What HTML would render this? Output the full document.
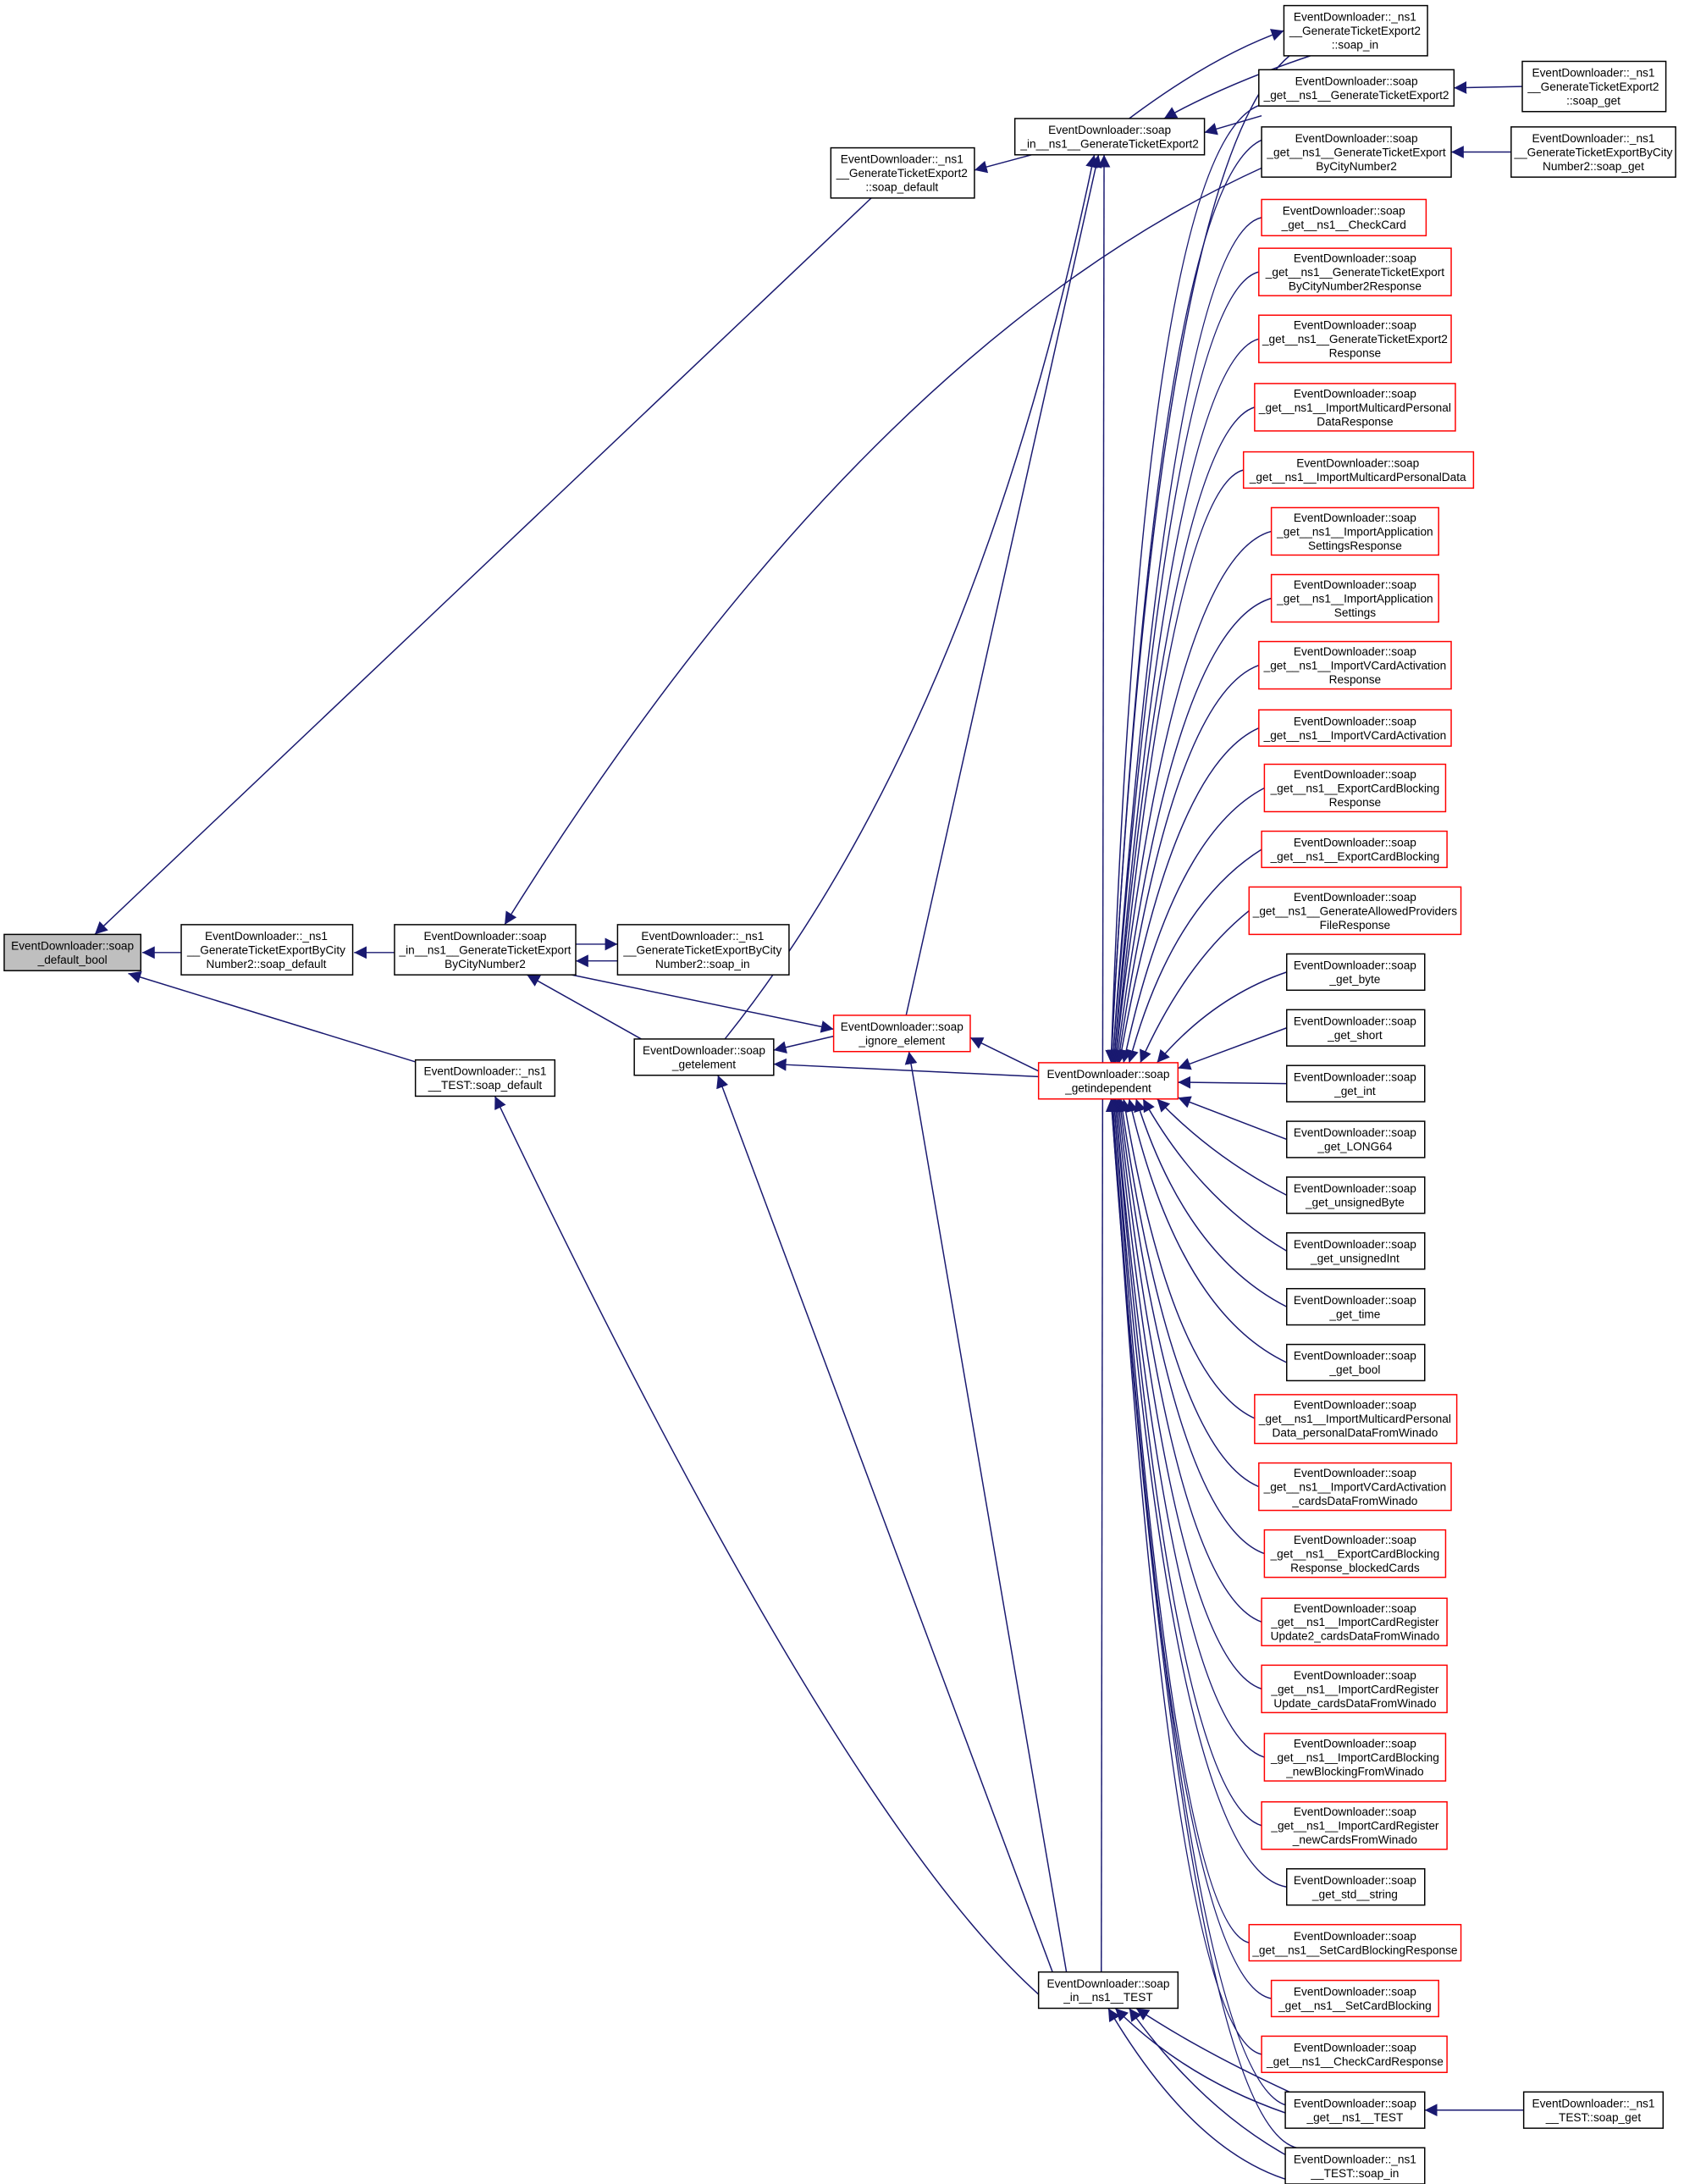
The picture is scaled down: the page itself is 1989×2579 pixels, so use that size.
<!DOCTYPE html>
<html><head><meta charset="utf-8"><style>
html,body{margin:0;padding:0;background:#fff;}
svg{display:block;}
text{font-family:"Liberation Sans",Arial,sans-serif;font-size:8.3px;fill:#000;text-anchor:middle;}
.n{fill:#fff;stroke:#000;stroke-width:0.9;}
.r{fill:#fff;stroke:#ff0000;stroke-width:0.9;}
.g{fill:#bfbfbf;stroke:#000;stroke-width:0.9;}
path.e{fill:none;stroke:#191970;stroke-width:0.9;}
</style></head><body>
<svg width="1989" height="2579" viewBox="0 0 1208 1566" preserveAspectRatio="none" xmlns="http://www.w3.org/2000/svg">
<defs><marker id="a" viewBox="0 0 10 10" refX="10" refY="5" markerWidth="9" markerHeight="9" markerUnits="userSpaceOnUse" orient="auto"><path d="M0,0 L10,5 L0,10 z" fill="#191970"/></marker></defs>

<g marker-end="url(#a)">
<path class="e" d="M130,683 L102,683"/>
<path class="e" d="M283,683 L254,683"/>
<path class="e" d="M625,142 L68,670"/>
<path class="e" d="M300,762 L92,698"/>
<path class="e" d="M413,677 L443,677"/>
<path class="e" d="M443,689 L413,689"/>
<path class="e" d="M906,120 Q620,250 362,663"/>
<path class="e" d="M740,111 L699,122"/>
<path class="e" d="M810,85 Q870,40 921,22"/>
<path class="e" d="M940,40 Q880,60 835,85"/>
<path class="e" d="M905,83 L864,95"/>
<path class="e" d="M1092,62 L1043,63"/>
<path class="e" d="M1084,109 L1041,109"/>
<path class="e" d="M460,745 L378,699"/>
<path class="e" d="M410,699 L598,738"/>
<path class="e" d="M598,743 L555,753"/>
<path class="e" d="M745,772 L555,763"/>
<path class="e" d="M745,768 L696,744"/>
<path class="e" d="M650,728 L788,111"/>
<path class="e" d="M520,745 Q700,520 785,111"/>
<path class="e" d="M765,1414 L652,754"/>
<path class="e" d="M755,1414 L515,771"/>
<path class="e" d="M745,1430 Q600,1300 355,786"/>
<path class="e" d="M790,1414 L792,111"/>
<path class="e" d="M925,1500 Q860,1470 815,1440"/>
<path class="e" d="M922,1515 Q850,1490 800,1440"/>
<path class="e" d="M922,1545 Q860,1510 810,1440"/>
<path class="e" d="M935,1566 Q860,1550 795,1440"/>
<path class="e" d="M1093,1513 L1022,1513"/>
<path class="e" d="M925,40 Q830,120 797,762"/>
<path class="e" d="M905,75 Q820,100 797,762"/>
<path class="e" d="M906,100 Q830,130 797,762"/>
<path class="e" d="M905,156 Q840,170 798,762"/>
<path class="e" d="M903,195 Q840,210 798,762"/>
<path class="e" d="M903,243 Q840,260 799,762"/>
<path class="e" d="M900,292 Q840,310 799,762"/>
<path class="e" d="M892,337 Q840,350 800,762"/>
<path class="e" d="M912,381 Q840,400 800,762"/>
<path class="e" d="M912,429 Q840,450 801,762"/>
<path class="e" d="M903,477 Q840,500 802,762"/>
<path class="e" d="M903,522 Q840,550 803,762"/>
<path class="e" d="M907,565 Q840,600 806,762"/>
<path class="e" d="M905,609 Q840,650 810,762"/>
<path class="e" d="M896,653 Q850,690 818,762"/>
<path class="e" d="M923,697 Q870,715 830,762"/>
<path class="e" d="M923,737 L845,766"/>
<path class="e" d="M923,777 L845,776"/>
<path class="e" d="M923,817 L845,787"/>
<path class="e" d="M923,857 Q870,830 830,788"/>
<path class="e" d="M923,897 Q860,860 820,788"/>
<path class="e" d="M923,937 Q850,900 815,788"/>
<path class="e" d="M923,977 Q845,940 810,788"/>
<path class="e" d="M900,1017 Q840,990 806,788"/>
<path class="e" d="M903,1066 Q840,1040 804,788"/>
<path class="e" d="M907,1114 Q840,1090 803,788"/>
<path class="e" d="M905,1163 Q840,1140 802,788"/>
<path class="e" d="M905,1211 Q840,1190 801,788"/>
<path class="e" d="M907,1260 Q840,1240 800,788"/>
<path class="e" d="M905,1309 Q840,1290 800,788"/>
<path class="e" d="M923,1353 Q840,1340 799,788"/>
<path class="e" d="M896,1393 Q840,1380 799,788"/>
<path class="e" d="M912,1433 Q840,1420 798,788"/>
<path class="e" d="M905,1473 Q840,1460 798,788"/>
<path class="e" d="M925,1510 Q850,1500 797,788"/>
<path class="e" d="M930,1540 Q850,1520 797,788"/>
</g>

<rect class="g" x="3" y="670" width="98" height="26"/><text x="52" y="681">EventDownloader::soap</text><text x="52" y="691">_default_bool</text>
<rect class="n" x="130" y="663" width="123" height="36"/><text x="191" y="674">EventDownloader::_ns1</text><text x="191" y="684">__GenerateTicketExportByCity</text><text x="191" y="694">Number2::soap_default</text>
<rect class="n" x="283" y="663" width="130" height="36"/><text x="348" y="674">EventDownloader::soap</text><text x="348" y="684">_in__ns1__GenerateTicketExport</text><text x="348" y="694">ByCityNumber2</text>
<rect class="n" x="443" y="663" width="123" height="36"/><text x="504" y="674">EventDownloader::_ns1</text><text x="504" y="684">__GenerateTicketExportByCity</text><text x="504" y="694">Number2::soap_in</text>
<rect class="n" x="596" y="106" width="103" height="36"/><text x="647" y="117">EventDownloader::_ns1</text><text x="647" y="127">__GenerateTicketExport2</text><text x="647" y="137">::soap_default</text>
<rect class="n" x="728" y="85" width="136" height="26"/><text x="796" y="96">EventDownloader::soap</text><text x="796" y="106">_in__ns1__GenerateTicketExport2</text>
<rect class="n" x="921" y="4" width="103" height="36"/><text x="972" y="15">EventDownloader::_ns1</text><text x="972" y="25">__GenerateTicketExport2</text><text x="972" y="35">::soap_in</text>
<rect class="n" x="903" y="50" width="140" height="26"/><text x="973" y="61">EventDownloader::soap</text><text x="973" y="71">_get__ns1__GenerateTicketExport2</text>
<rect class="n" x="1092" y="44" width="103" height="36"/><text x="1143" y="55">EventDownloader::_ns1</text><text x="1143" y="65">__GenerateTicketExport2</text><text x="1143" y="75">::soap_get</text>
<rect class="n" x="905" y="91" width="136" height="36"/><text x="973" y="102">EventDownloader::soap</text><text x="973" y="112">_get__ns1__GenerateTicketExport</text><text x="973" y="122">ByCityNumber2</text>
<rect class="n" x="1084" y="91" width="118" height="36"/><text x="1143" y="102">EventDownloader::_ns1</text><text x="1143" y="112">__GenerateTicketExportByCity</text><text x="1143" y="122">Number2::soap_get</text>
<rect class="n" x="298" y="760" width="100" height="26"/><text x="348" y="771">EventDownloader::_ns1</text><text x="348" y="781">__TEST::soap_default</text>
<rect class="n" x="455" y="745" width="100" height="26"/><text x="505" y="756">EventDownloader::soap</text><text x="505" y="766">_getelement</text>
<rect class="r" x="598" y="728" width="98" height="26"/><text x="647" y="739">EventDownloader::soap</text><text x="647" y="749">_ignore_element</text>
<rect class="r" x="745" y="762" width="100" height="26"/><text x="795" y="773">EventDownloader::soap</text><text x="795" y="783">_getindependent</text>
<rect class="n" x="745" y="1414" width="100" height="26"/><text x="795" y="1425">EventDownloader::soap</text><text x="795" y="1435">_in__ns1__TEST</text>
<rect class="n" x="1093" y="1500" width="100" height="26"/><text x="1143" y="1511">EventDownloader::_ns1</text><text x="1143" y="1521">__TEST::soap_get</text>
<rect class="n" x="922" y="1540" width="100" height="26"/><text x="972" y="1551">EventDownloader::_ns1</text><text x="972" y="1561">__TEST::soap_in</text>

<rect class="r" x="905" y="143" width="118" height="26"/><text x="964" y="154">EventDownloader::soap</text><text x="964" y="164">_get__ns1__CheckCard</text>
<rect class="r" x="903" y="178" width="138" height="34"/><text x="972" y="188">EventDownloader::soap</text><text x="972" y="198">_get__ns1__GenerateTicketExport</text><text x="972" y="208">ByCityNumber2Response</text>
<rect class="r" x="903" y="226" width="138" height="34"/><text x="972" y="236">EventDownloader::soap</text><text x="972" y="246">_get__ns1__GenerateTicketExport2</text><text x="972" y="256">Response</text>
<rect class="r" x="900" y="275" width="144" height="34"/><text x="972" y="285">EventDownloader::soap</text><text x="972" y="295">_get__ns1__ImportMulticardPersonal</text><text x="972" y="305">DataResponse</text>
<rect class="r" x="892" y="324" width="165" height="26"/><text x="974" y="335">EventDownloader::soap</text><text x="974" y="345">_get__ns1__ImportMulticardPersonalData</text>
<rect class="r" x="912" y="364" width="120" height="34"/><text x="972" y="374">EventDownloader::soap</text><text x="972" y="384">_get__ns1__ImportApplication</text><text x="972" y="394">SettingsResponse</text>
<rect class="r" x="912" y="412" width="120" height="34"/><text x="972" y="422">EventDownloader::soap</text><text x="972" y="432">_get__ns1__ImportApplication</text><text x="972" y="442">Settings</text>
<rect class="r" x="903" y="460" width="138" height="34"/><text x="972" y="470">EventDownloader::soap</text><text x="972" y="480">_get__ns1__ImportVCardActivation</text><text x="972" y="490">Response</text>
<rect class="r" x="903" y="509" width="138" height="26"/><text x="972" y="520">EventDownloader::soap</text><text x="972" y="530">_get__ns1__ImportVCardActivation</text>
<rect class="r" x="907" y="548" width="130" height="34"/><text x="972" y="558">EventDownloader::soap</text><text x="972" y="568">_get__ns1__ExportCardBlocking</text><text x="972" y="578">Response</text>
<rect class="r" x="905" y="596" width="133" height="26"/><text x="972" y="607">EventDownloader::soap</text><text x="972" y="617">_get__ns1__ExportCardBlocking</text>
<rect class="r" x="896" y="636" width="152" height="34"/><text x="972" y="646">EventDownloader::soap</text><text x="972" y="656">_get__ns1__GenerateAllowedProviders</text><text x="972" y="666">FileResponse</text>
<rect class="n" x="923" y="684" width="99" height="26"/><text x="972" y="695">EventDownloader::soap</text><text x="972" y="705">_get_byte</text>
<rect class="n" x="923" y="724" width="99" height="26"/><text x="972" y="735">EventDownloader::soap</text><text x="972" y="745">_get_short</text>
<rect class="n" x="923" y="764" width="99" height="26"/><text x="972" y="775">EventDownloader::soap</text><text x="972" y="785">_get_int</text>
<rect class="n" x="923" y="804" width="99" height="26"/><text x="972" y="815">EventDownloader::soap</text><text x="972" y="825">_get_LONG64</text>
<rect class="n" x="923" y="844" width="99" height="26"/><text x="972" y="855">EventDownloader::soap</text><text x="972" y="865">_get_unsignedByte</text>
<rect class="n" x="923" y="884" width="99" height="26"/><text x="972" y="895">EventDownloader::soap</text><text x="972" y="905">_get_unsignedInt</text>
<rect class="n" x="923" y="924" width="99" height="26"/><text x="972" y="935">EventDownloader::soap</text><text x="972" y="945">_get_time</text>
<rect class="n" x="923" y="964" width="99" height="26"/><text x="972" y="975">EventDownloader::soap</text><text x="972" y="985">_get_bool</text>
<rect class="r" x="900" y="1000" width="145" height="35"/><text x="972" y="1010">EventDownloader::soap</text><text x="972" y="1020">_get__ns1__ImportMulticardPersonal</text><text x="972" y="1030">Data_personalDataFromWinado</text>
<rect class="r" x="903" y="1049" width="138" height="34"/><text x="972" y="1059">EventDownloader::soap</text><text x="972" y="1069">_get__ns1__ImportVCardActivation</text><text x="972" y="1079">_cardsDataFromWinado</text>
<rect class="r" x="907" y="1097" width="130" height="34"/><text x="972" y="1107">EventDownloader::soap</text><text x="972" y="1117">_get__ns1__ExportCardBlocking</text><text x="972" y="1127">Response_blockedCards</text>
<rect class="r" x="905" y="1146" width="133" height="34"/><text x="972" y="1156">EventDownloader::soap</text><text x="972" y="1166">_get__ns1__ImportCardRegister</text><text x="972" y="1176">Update2_cardsDataFromWinado</text>
<rect class="r" x="905" y="1194" width="133" height="34"/><text x="972" y="1204">EventDownloader::soap</text><text x="972" y="1214">_get__ns1__ImportCardRegister</text><text x="972" y="1224">Update_cardsDataFromWinado</text>
<rect class="r" x="907" y="1243" width="130" height="34"/><text x="972" y="1253">EventDownloader::soap</text><text x="972" y="1263">_get__ns1__ImportCardBlocking</text><text x="972" y="1273">_newBlockingFromWinado</text>
<rect class="r" x="905" y="1292" width="133" height="34"/><text x="972" y="1302">EventDownloader::soap</text><text x="972" y="1312">_get__ns1__ImportCardRegister</text><text x="972" y="1322">_newCardsFromWinado</text>
<rect class="n" x="923" y="1340" width="99" height="26"/><text x="972" y="1351">EventDownloader::soap</text><text x="972" y="1361">_get_std__string</text>
<rect class="r" x="896" y="1380" width="152" height="26"/><text x="972" y="1391">EventDownloader::soap</text><text x="972" y="1401">_get__ns1__SetCardBlockingResponse</text>
<rect class="r" x="912" y="1420" width="120" height="26"/><text x="972" y="1431">EventDownloader::soap</text><text x="972" y="1441">_get__ns1__SetCardBlocking</text>
<rect class="r" x="905" y="1460" width="133" height="26"/><text x="972" y="1471">EventDownloader::soap</text><text x="972" y="1481">_get__ns1__CheckCardResponse</text>
<rect class="n" x="922" y="1500" width="100" height="26"/><text x="972" y="1511">EventDownloader::soap</text><text x="972" y="1521">_get__ns1__TEST</text>
</svg>
</body></html>
